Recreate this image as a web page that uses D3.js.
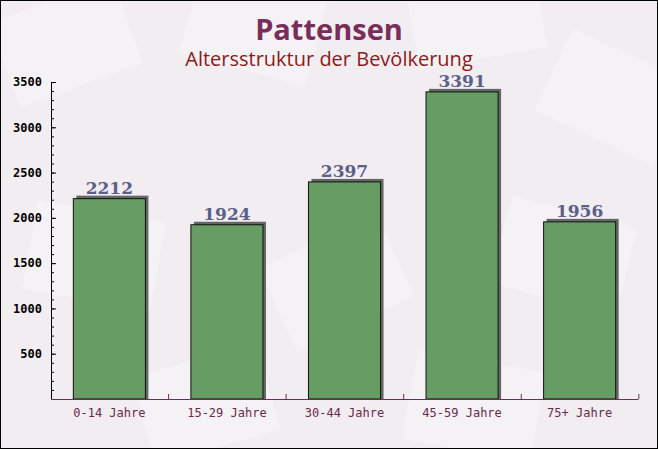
<!DOCTYPE html>
<html>
<head>
<meta charset="utf-8">
<script src="https://cdn.jsdelivr.net/npm/d3@7"></script>
<style>
  body { margin: 0; padding: 0; background: #fff; }
  svg { display: block; }
</style>
</head>
<body>
<div id="chart"></div>
<script>
var categories = ["0-14 Jahre", "15-29 Jahre", "30-44 Jahre", "45-59 Jahre", "75+ Jahre"];
var values = [2212, 1924, 2397, 3391, 1956];
var yTicks = [500, 1000, 1500, 2000, 2500, 3000, 3500];

var width = 658, height = 449;
var margin = {top: 82, right: 20, bottom: 50, left: 51};

var svg = d3.select("#chart").append("svg")
    .attr("width", width)
    .attr("height", height);

// background with faint envelope shapes
svg.append("rect")
    .attr("width", width).attr("height", height)
    .attr("fill", "#f1edf1");

var env = [
  [60, 40, -20], [250, 20, 15], [470, 10, -10], [610, 90, 25],
  [90, 250, 10], [330, 280, -25], [560, 250, 15], [200, 400, -15], [470, 400, 10]
];
svg.append("g").selectAll("rect")
    .data(env)
  .enter().append("rect")
    .attr("x", -60).attr("y", -40)
    .attr("width", 130).attr("height", 90)
    .attr("fill", "#ffffff")
    .attr("opacity", 0.3)
    .attr("transform", function(d) { return "translate(" + d[0] + "," + d[1] + ") rotate(" + d[2] + ")"; });

var plotW = width - margin.left - margin.right,
    plotH = height - margin.top - margin.bottom;

var x = d3.scaleBand().domain(categories).range([0, plotW]).paddingInner(0.387).paddingOuter(0.19);
var y = d3.scaleLinear().domain([0, 3500]).range([plotH, 0]);

var g = svg.append("g")
    .attr("transform", "translate(" + margin.left + "," + margin.top + ")");

// title
svg.append("text")
    .attr("x", 329).attr("y", 40)
    .attr("text-anchor", "middle")
    .attr("font-family", "'Open Sans', 'DejaVu Sans', sans-serif")
    .attr("font-weight", "bold")
    .attr("font-size", 29)
    .attr("fill", "#7b2d5a")
    .text("Pattensen");

svg.append("text")
    .attr("x", 329).attr("y", 66)
    .attr("text-anchor", "middle")
    .attr("font-family", "'Open Sans', 'DejaVu Sans', sans-serif")
    .attr("font-size", 20)
    .attr("fill", "#8b1a1a")
    .text("Altersstruktur der Bevölkerung");

// bars: shadow first
g.selectAll(".shadow")
    .data(values)
  .enter().append("rect")
    .attr("class", "shadow")
    .attr("x", function(d, i) { return x(categories[i]) + 3; })
    .attr("y", function(d) { return y(d) - 3; })
    .attr("width", x.bandwidth())
    .attr("height", function(d) { return plotH - y(d) + 3; })
    .attr("fill", "#666");

g.selectAll(".bar")
    .data(values)
  .enter().append("rect")
    .attr("class", "bar")
    .attr("x", function(d, i) { return x(categories[i]); })
    .attr("y", function(d) { return y(d); })
    .attr("width", x.bandwidth())
    .attr("height", function(d) { return plotH - y(d); })
    .attr("fill", "#659d63")
    .attr("stroke", "#111")
    .attr("stroke-width", 1);

g.selectAll(".val")
    .data(values)
  .enter().append("text")
    .attr("class", "val")
    .attr("x", function(d, i) { return x(categories[i]) + x.bandwidth() / 2; })
    .attr("y", function(d) { return y(d) - 5; })
    .attr("text-anchor", "middle")
    .attr("font-family", "'DejaVu Serif', serif")
    .attr("font-weight", "bold")
    .attr("font-size", 17)
    .attr("fill", "#5b6089")
    .text(function(d) { return d; });

// y axis with minor ticks
var yAxis = g.append("g")
    .call(d3.axisLeft(y).tickValues(d3.range(100, 3501, 100)).tickSize(-3).tickFormat(""));
yAxis.select(".domain").remove();
yAxis.selectAll("line").attr("stroke", "#000");

var yMajor = g.append("g")
    .call(d3.axisLeft(y).tickValues(yTicks).tickSize(-5).tickSizeOuter(0).tickPadding(9).tickFormat(d3.format("d")));
yMajor.select(".domain").attr("stroke", "#000");
yMajor.selectAll("line").attr("stroke", "#000");
yMajor.selectAll("text")
    .attr("font-family", "'DejaVu Sans Mono', monospace")
    .attr("font-weight", "bold")
    .attr("font-size", 12)
    .attr("fill", "#000");

// x axis
var xAxis = g.append("g")
    .attr("transform", "translate(0," + plotH + ")")
    .call(d3.axisBottom(x).tickSize(0).tickPadding(9));
xAxis.select(".domain").attr("stroke", "#6b3050");
xAxis.selectAll("text")
    .attr("font-family", "'DejaVu Sans Mono', monospace")
    .attr("font-size", 12)
    .attr("fill", "#6b2a4a");

var step = x.step();
var bounds = d3.range(1, categories.length + 1).map(function(i) { return x(categories[0]) - x.paddingOuter() * step + i * step; });
g.append("g").selectAll("line")
    .data(bounds)
  .enter().append("line")
    .attr("x1", function(d) { return d; }).attr("x2", function(d) { return d; })
    .attr("y1", plotH).attr("y2", plotH - 5)
    .attr("stroke", "#6b3050");

// frame
svg.append("rect")
    .attr("x", 0.5).attr("y", 0.5)
    .attr("width", width - 1).attr("height", height - 1)
    .attr("fill", "none")
    .attr("stroke", "#000");
</script>
</body>
</html>
